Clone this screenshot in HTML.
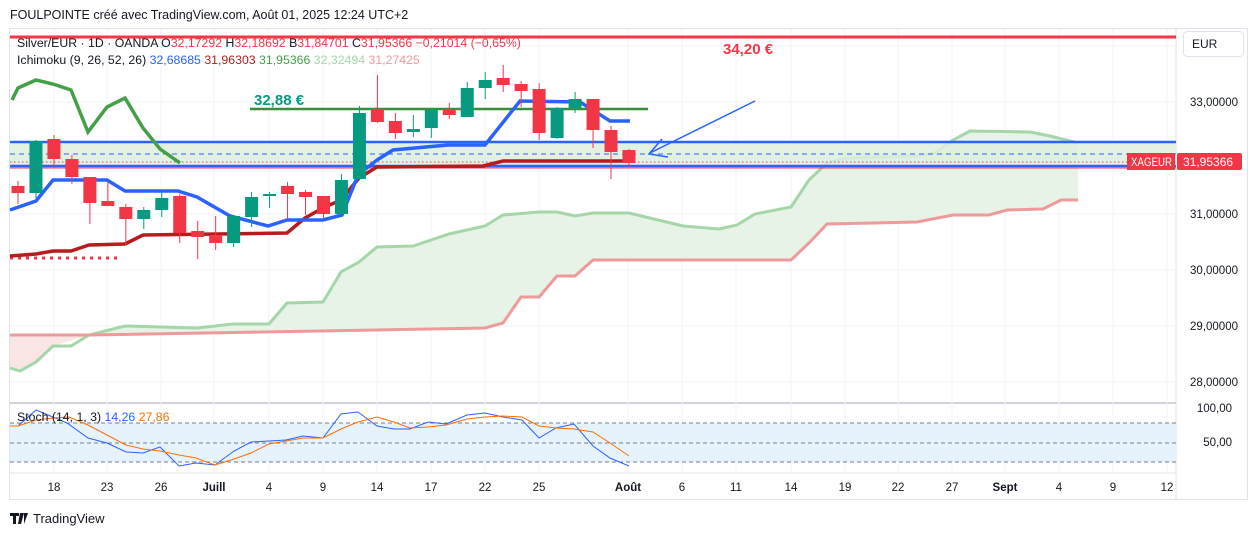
<!DOCTYPE html>
<html><head><meta charset="utf-8"><style>
body{margin:0;background:#fff;width:1257px;height:536px;overflow:hidden;font-family:"Liberation Sans",sans-serif}
svg{position:absolute;left:0;top:0}
</style></head><body>
<svg width="1257" height="536" viewBox="0 0 1257 536" font-family="Liberation Sans, sans-serif">
<text x="10" y="19" font-size="12.5" fill="#131722">FOULPOINTE créé avec TradingView.com, Août 01, 2025 12:24 UTC+2</text>
<rect x="9.5" y="28.5" width="1238" height="471" fill="none" stroke="#e0e3eb"/>
<line x1="1176" y1="28" x2="1176" y2="500" stroke="#e0e3eb"/>
<line x1="10" y1="403" x2="1176" y2="403" stroke="#d1d4dc" stroke-width="2"/>
<line x1="10" y1="473" x2="1176" y2="473" stroke="#e0e3eb"/>
<g stroke="#f0f3fa">
<line x1="54" y1="29" x2="54" y2="473"/><line x1="107" y1="29" x2="107" y2="473"/><line x1="161" y1="29" x2="161" y2="473"/><line x1="214" y1="29" x2="214" y2="473"/><line x1="269" y1="29" x2="269" y2="473"/><line x1="323" y1="29" x2="323" y2="473"/><line x1="377" y1="29" x2="377" y2="473"/><line x1="431" y1="29" x2="431" y2="473"/><line x1="485" y1="29" x2="485" y2="473"/><line x1="539" y1="29" x2="539" y2="473"/><line x1="628" y1="29" x2="628" y2="473"/><line x1="682" y1="29" x2="682" y2="473"/><line x1="736" y1="29" x2="736" y2="473"/><line x1="791" y1="29" x2="791" y2="473"/><line x1="845" y1="29" x2="845" y2="473"/><line x1="898" y1="29" x2="898" y2="473"/><line x1="952" y1="29" x2="952" y2="473"/><line x1="1005" y1="29" x2="1005" y2="473"/><line x1="1059" y1="29" x2="1059" y2="473"/><line x1="1113" y1="29" x2="1113" y2="473"/><line x1="1167" y1="29" x2="1167" y2="473"/>
<line x1="10" y1="102" x2="1176" y2="102"/><line x1="10" y1="158" x2="1176" y2="158"/><line x1="10" y1="214" x2="1176" y2="214"/><line x1="10" y1="270" x2="1176" y2="270"/><line x1="10" y1="326" x2="1176" y2="326"/><line x1="10" y1="382" x2="1176" y2="382"/><line x1="10" y1="46" x2="1176" y2="46"/>
</g>
<polygon points="10,335 53,335 89,335 89,335 53,346 36,362 20,371 10,368" fill="#f9dede" opacity="0.8"/>
<polygon points="89,335 125,326 197,328 233,324 269,324 287,303 323,302 341,272 359,262 377,247 413,246 431,240 449,234 485,226 503,215 539,212 557,212 575,216 593,213 629,213 683,226 719,229 737,225 755,214 791,207 809,180 827,163 845,158 917,156 935,153 953,140 970,131 1030,132 1050,136 1078,143 1078,200 1061,200 1043,209 1007,210 989,215 953,215 917,222 827,224 809,243 791,260 593,260 575,276 557,276 539,297 521,297 503,323 485,328 377,330" fill="#e6f3e6"/>
<polyline points="10,368 20,371 36,362 53,346 71,346 89,335 125,326 197,328 233,324 269,324 287,303 323,302 341,272 359,262 377,247 413,246 431,240 449,234 485,226 503,215 539,212 557,212 575,216 593,213 629,213 683,226 719,229 737,225 755,214 791,207 809,180 827,163 845,158 917,156 935,153 953,140 970,131 1030,132 1050,136 1078,143" fill="none" stroke="#a5d6a7" stroke-width="3"/>
<polyline points="10,335 89,335 377,330 485,328 503,323 521,297 539,297 557,276 575,276 593,260 791,260 809,243 827,224 917,222 953,215 989,215 1007,210 1043,209 1061,200 1078,200" fill="none" stroke="#ef9a9a" stroke-width="3"/>
<rect x="10" y="142" width="1166" height="24" fill="#ddefdd" opacity="0.85"/>
<line x1="10" y1="142" x2="1176" y2="142" stroke="#2962ff" stroke-width="2.5"/>
<line x1="10" y1="166" x2="1176" y2="166" stroke="#2962ff" stroke-width="2.5"/>
<line x1="10" y1="168" x2="1176" y2="168" stroke="#f23645" stroke-width="1"/>
<line x1="10" y1="154" x2="1176" y2="154" stroke="#2962ff" stroke-dasharray="5,4"/>
<line x1="10" y1="162" x2="1176" y2="162" stroke="#f23645" stroke-dasharray="1.5,2.5"/>
<line x1="10" y1="37" x2="1176" y2="37" stroke="#f23645" stroke-width="3"/>
<text x="723" y="54" font-size="15" font-weight="bold" fill="#f23645">34,20 €</text>
<line x1="250" y1="109" x2="648" y2="109" stroke="#388e3c" stroke-width="2.5"/>
<text x="254" y="105" font-size="15" font-weight="bold" fill="#089981">32,88 €</text>
<line x1="10" y1="258" x2="120" y2="258" stroke="#f23645" stroke-width="3" stroke-dasharray="3,5"/>
<polyline points="12,100 18,88 36,80 53,84 71,90 88,132 107,107 125,98 143,128 160,149 180,163" fill="none" stroke="#43a047" stroke-width="3.5"/>
<polyline points="10,256 36,254 53,251 71,251 89,245 125,244 143,235 287,233 305,218 323,208 341,200 359,178 377,167 483,166 503,161 630,161" fill="none" stroke="#b71c1c" stroke-width="3.5"/>
<polyline points="10,210 36,201 53,180 107,180 125,191 178,191 197,197 230,216 268,226 287,220 323,220 342,215 358,175 377,160 393,150 448,145 485,145 520,101 580,102 610,121 630,121" fill="none" stroke="#2962ff" stroke-width="3.5"/>
<g id="c"></g>
<line x1="755" y1="101" x2="650" y2="153" stroke="#2962ff" stroke-width="1.5"/>
<polyline points="662,139 649,154 668,157" fill="none" stroke="#2962ff" stroke-width="1.5"/>
<rect x="10" y="423" width="1166" height="39" fill="#e3f2fd" opacity="0.9"/>
<g stroke="#787b86" stroke-dasharray="4,3"><line x1="10" y1="423" x2="1176" y2="423"/><line x1="10" y1="443" x2="1176" y2="443"/><line x1="10" y1="462" x2="1176" y2="462"/></g>
<polyline points="10,426 18,426 36,410 53,417 67,423 88,438 107,443 126,452 143,453 160,447 179,466 196,463 215,465 234,451 251,442 286,440 303,436 323,438 341,414 358,412 377,426 394,429 410,429 428,422 446,424 467,415 485,413 503,417 522,420 539,438 556,428 574,424 593,446 610,458 629,466" fill="none" stroke="#2962ff" stroke-width="1"/>
<polyline points="10,426 18,426 36,420 53,418 69,417 88,425 107,435 126,445 143,449 160,451 179,455 196,458 215,465 234,459 251,453 269,444 286,441 303,438 323,438 341,429 358,422 377,417 394,422 410,428 428,427 446,425 467,419 485,417 503,416 522,417 539,426 556,428 574,429 593,432 610,443 629,456" fill="none" stroke="#ff6d00" stroke-width="1"/>
<text x="17" y="421" font-size="12.3" fill="#131722">Stoch (14, 1, 3) <tspan fill="#2962ff">14,26</tspan> <tspan fill="#ff6d00">27,86</tspan></text>
<text x="17" y="47" font-size="12.3" fill="#131722">Silver/EUR · 1D · OANDA <tspan>O</tspan><tspan fill="#f23645">32,17292</tspan> H<tspan fill="#f23645">32,18692</tspan> B<tspan fill="#f23645">31,84701</tspan> C<tspan fill="#f23645">31,95366 −0,21014 (−0,65%)</tspan></text>
<text x="17" y="64" font-size="12.3" fill="#131722">Ichimoku (9, 26, 52, 26) <tspan fill="#2962ff">32,68685</tspan> <tspan fill="#b71c1c">31,96303</tspan> <tspan fill="#43a047">31,95366</tspan> <tspan fill="#a5d6a7">32,32494</tspan> <tspan fill="#ef9a9a">31,27425</tspan></text>
<rect x="1183.5" y="31.5" width="60" height="25" rx="4" fill="#fff" stroke="#e0e3eb"/>
<text x="1192" y="48" font-size="12" fill="#131722">EUR</text>
<g font-size="11.5" fill="#131722" text-anchor="end">
<text x="1238" y="106">33,00000</text><text x="1238" y="218">31,00000</text><text x="1238" y="274">30,00000</text><text x="1238" y="330">29,00000</text><text x="1238" y="386">28,00000</text><text x="1232" y="412">100,00</text><text x="1232" y="446">50,00</text>
</g>
<rect x="1127" y="153" width="48" height="17" fill="#f23645"/>
<text x="1131" y="166" font-size="11.5" fill="#fff" textLength="41" lengthAdjust="spacingAndGlyphs">XAGEUR</text>
<rect x="1177" y="153" width="65" height="17" rx="2" fill="#f23645"/>
<text x="1183" y="166" font-size="12" fill="#fff">31,95366</text>
<g font-size="11.5" fill="#131722" text-anchor="middle">
<text x="54" y="491">18</text><text x="107" y="491">23</text><text x="161" y="491">26</text><text x="214" y="491" font-weight="bold">Juill</text><text x="269" y="491">4</text><text x="323" y="491">9</text><text x="377" y="491">14</text><text x="431" y="491">17</text><text x="485" y="491">22</text><text x="539" y="491">25</text><text x="628" y="491" font-weight="bold">Août</text><text x="682" y="491">6</text><text x="736" y="491">11</text><text x="791" y="491">14</text><text x="845" y="491">19</text><text x="898" y="491">22</text><text x="952" y="491">27</text><text x="1005" y="491" font-weight="bold">Sept</text><text x="1059" y="491">4</text><text x="1113" y="491">9</text><text x="1167" y="491">12</text>
</g>
<path d="M10,513h9v3h-3v8h-3v-8h-3z M20,513h4l-3,11h-3z M24,513h4l-4,11z" fill="#131722"/>
<text x="33" y="523" font-size="13" fill="#131722">TradingView</text>
</svg>
<script>
var d=[[1,186,193,181,204],[0,141,193,140,198],[1,139,159,135,168],[1,159,177,155,184],[1,177,203,177,224],[1,201,206,182,206],[1,207,219,204,245],[0,210,219,207,229],[0,198,210,192,217],[1,196,233,194,243],[1,231,237,221,259],[1,235,243,216,250],[0,216,243,216,247],[0,197,217,192,227],[0,194,196,192,208],[1,186,194,182,219],[1,192,197,190,215],[1,196,214,196,218],[0,180,214,174,214],[0,113,179,106,179],[1,109,122,75,123],[1,121,133,113,139],[0,129,132,115,137],[0,110,128,110,138],[1,110,115,103,119],[0,88,117,82,117],[0,80,88,72,99],[1,78,85,65,92],[1,84,91,81,107],[1,89,133,83,140],[0,108,138,107,139],[0,99,108,92,113],[1,99,130,99,148],[1,130,152,126,179],[1,150,163,149,167]];
var g=document.getElementById('c'),s='';
d.forEach(function(c,i){var x=18+17.97*i,col=c[0]?'#f23645':'#089981';
s+='<line x1="'+x+'" y1="'+c[3]+'" x2="'+x+'" y2="'+c[4]+'" stroke="'+col+'" stroke-width="1"/>';
s+='<rect x="'+(x-6.5)+'" y="'+c[1]+'" width="13" height="'+Math.max(2,c[2]-c[1])+'" fill="'+col+'"/>';});
g.innerHTML=s;
</script>
</body></html>
